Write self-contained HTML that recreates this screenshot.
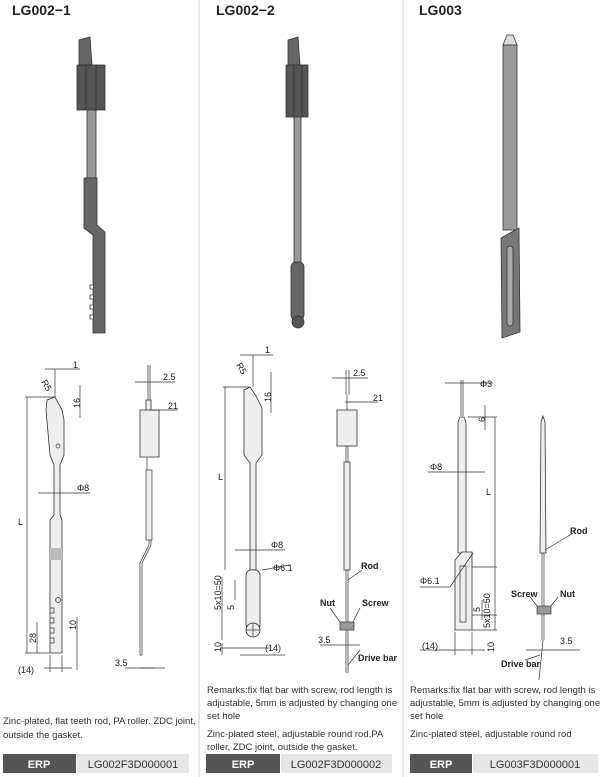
<!DOCTYPE html>
<html><head><meta charset="utf-8"><style>
body{margin:0;background:#fff;width:600px;height:777px;overflow:hidden;font-family:"Liberation Sans",sans-serif}
svg{display:block}
.t{font-family:"Liberation Sans",sans-serif;font-size:9.5px;fill:#333}
.h{font-family:"Liberation Sans",sans-serif;font-size:14px;font-weight:bold;fill:#222}
.d{font-family:"Liberation Sans",sans-serif;font-size:9px;fill:#222}
.l{stroke:#333;stroke-width:0.7;fill:none}
.p{stroke:#333;stroke-width:0.8;fill:#eee}
.e{font-family:"Liberation Sans",sans-serif;font-size:11px}
</style></head><body>
<svg width="600" height="777" viewBox="0 0 600 777">
<line x1="199" y1="0" x2="199" y2="777" stroke="#ccc"/>
<line x1="403" y1="0" x2="403" y2="777" stroke="#ccc"/>
<text class="h" x="12" y="15">LG002−1</text>
<text class="h" x="216" y="15">LG002−2</text>
<text class="h" x="419" y="15">LG003</text>

<!-- 3D col1 -->
<g fill="#777" stroke="#333" stroke-width="0.8">
<path d="M79 40 L90 37 L92 65 L79 65Z" fill="#666"/>
<rect x="77" y="65" width="28" height="45" fill="#555"/>
<line x1="86" y1="65" x2="86" y2="110"/><line x1="96" y1="65" x2="96" y2="110"/>
<rect x="87" y="110" width="9" height="68" fill="#999"/>
<path d="M84 178 L97 178 L97 225 L105 232 L105 333 L93 333 L93 235 L84 228Z" fill="#666"/>
<path d="M93 285 h-3 v4 h3 M93 295 h-3 v4 h3 M93 305 h-3 v4 h3 M93 315 h-3 v4 h3" fill="#fff"/>
</g>
<!-- 3D col2 -->
<g fill="#777" stroke="#333" stroke-width="0.8">
<path d="M288 40 L298 37 L300 65 L288 65Z" fill="#666"/>
<rect x="286" y="65" width="22" height="52" fill="#555"/>
<line x1="294" y1="65" x2="294" y2="117"/><line x1="302" y1="65" x2="302" y2="117"/>
<rect x="294" y="117" width="7" height="145" fill="#999"/>
<rect x="291" y="262" width="13" height="58" rx="5" fill="#666"/>
<circle cx="298" cy="322" r="6" fill="#555"/>
</g>
<!-- 3D col3 -->
<g stroke="#333" stroke-width="0.8">
<path d="M503 45 L507 35 L513 35 L517 45Z" fill="#ddd"/>
<rect x="503" y="45" width="14" height="185" fill="#999"/>
<path d="M501 238 L519 228 L520 332 L502 338Z" fill="#777"/>
<rect x="507" y="246" width="6" height="80" rx="3" fill="#aaa"/>
</g>

<!-- Drawing col1 -->
<g class="l">
<path d="M47 400 L55 397 L62 410 L64 420 L64 455 L60 465 L60 515 L62 520 L62 653 L50 653 L50 520 L54 515 L54 465 L50 455 L46 410Z" class="p"/>
<line x1="25" y1="397" x2="55" y2="397"/><line x1="25" y1="653" x2="50" y2="653"/>
<line x1="27" y1="397" x2="27" y2="653"/>
<line x1="55" y1="369" x2="55" y2="397"/><line x1="45" y1="369" x2="80" y2="369"/>
<line x1="80" y1="385" x2="80" y2="418"/>
<line x1="38" y1="493" x2="90" y2="493"/>
<line x1="37" y1="622" x2="37" y2="653"/>
<line x1="77" y1="617" x2="77" y2="670"/>
<line x1="44" y1="668" x2="72" y2="668"/><line x1="50" y1="655" x2="50" y2="672"/><line x1="62" y1="655" x2="62" y2="672"/>
<path d="M50 608 h4 v5 h-4 M50 618 h4 v5 h-4 M50 628 h4 v5 h-4 M50 638 h4 v5 h-4"/>
<rect x="50" y="548" width="12" height="12" fill="#bbb" stroke="none"/>
<circle cx="58" cy="446" r="2"/><circle cx="58" cy="600" r="2.5"/>
</g>
<text class="d" x="73" y="368">1</text>
<text class="d" transform="translate(41,382) rotate(60)">R5</text>
<text class="d" transform="translate(80,408) rotate(-90)">16</text>
<text class="d" x="77" y="491">Φ8</text>
<text class="d" x="18" y="525">L</text>
<text class="d" transform="translate(36,643) rotate(-90)">28</text>
<text class="d" transform="translate(76,630) rotate(-90)">10</text>
<text class="d" x="18" y="673">(14)</text>
<g class="l">
<path d="M146 400 L151 400 L151 410 L159 410 L159 457 L146 457 L140 457 L140 410 L146 410Z" class="p"/>
<line x1="148" y1="400" x2="148" y2="365"/><line x1="150" y1="400" x2="150" y2="365"/>
<line x1="135" y1="382" x2="175" y2="382"/><line x1="145" y1="410" x2="178" y2="410"/>
<path d="M147 457 L147 470 L149 470 L149 545 L140 563 L140 655 L142 655 L142 563 L151 545 L151 470"/>
<rect x="146" y="470" width="6" height="70" fill="#eee"/>
<line x1="140" y1="668" x2="155" y2="668"/><line x1="125" y1="668" x2="165" y2="668"/>
</g>
<text class="d" x="163" y="380">2.5</text>
<text class="d" x="168" y="409">21</text>
<text class="d" x="115" y="666">3.5</text>

<!-- Drawing col2 -->
<g class="l">
<path d="M244 390 L250 387 L256 396 L262 408 L262 455 L256 463 L256 570 L250 570 L250 463 L244 455Z" class="p"/>
<rect x="246" y="570" width="14" height="60" rx="5" class="p"/>
<circle cx="253" cy="630" r="7" class="p"/>
<line x1="253" y1="623" x2="253" y2="637"/><line x1="246" y1="630" x2="260" y2="630"/>
<line x1="223" y1="387" x2="250" y2="387"/><line x1="225" y1="387" x2="225" y2="570"/>
<line x1="253" y1="355" x2="253" y2="387"/><line x1="240" y1="355" x2="273" y2="355"/>
<line x1="271" y1="372" x2="271" y2="413"/>
<line x1="235" y1="550" x2="285" y2="550"/>
<line x1="222" y1="577" x2="222" y2="640"/><line x1="222" y1="643" x2="222" y2="655"/>
<line x1="235" y1="580" x2="235" y2="600"/>
<line x1="220" y1="648" x2="270" y2="648"/>
<line x1="240" y1="655" x2="285" y2="655"/>
<line x1="262" y1="570" x2="290" y2="565"/>
</g>
<text class="d" x="265" y="353">1</text>
<text class="d" transform="translate(236,365) rotate(60)">R5</text>
<text class="d" transform="translate(271,402) rotate(-90)">16</text>
<text class="d" x="271" y="548">Φ8</text>
<text class="d" x="273" y="571">Φ6.1</text>
<text class="d" x="218" y="480">L</text>
<text class="d" transform="translate(221,610) rotate(-90)">5x10=50</text>
<text class="d" transform="translate(234,610) rotate(-90)">5</text>
<text class="d" transform="translate(221,652) rotate(-90)">10</text>
<text class="d" x="265" y="651">(14)</text>
<g class="l">
<rect x="337" y="410" width="20" height="36" class="p"/>
<line x1="347" y1="395" x2="347" y2="410"/>
<line x1="346" y1="370" x2="346" y2="395"/><line x1="349" y1="370" x2="349" y2="395"/>
<line x1="332" y1="378" x2="368" y2="378"/><line x1="345" y1="402" x2="378" y2="402"/>
<rect x="344" y="462" width="6" height="108" class="p"/>
<line x1="346" y1="446" x2="346" y2="462"/><line x1="348" y1="446" x2="348" y2="462"/>
<line x1="346" y1="570" x2="346" y2="673"/><line x1="348" y1="570" x2="348" y2="673"/>
<rect x="340" y="622" width="14" height="8" fill="#999"/>
<line x1="348" y1="580" x2="362" y2="570"/><line x1="340" y1="622" x2="330" y2="608"/><line x1="353" y1="622" x2="360" y2="608"/>
<line x1="320" y1="645" x2="360" y2="645"/>
<line x1="348" y1="665" x2="360" y2="650"/>
</g>
<text class="d" x="353" y="376">2.5</text>
<text class="d" x="373" y="401">21</text>
<text class="d" x="361" y="569" font-weight="bold">Rod</text>
<text class="d" x="320" y="606" font-weight="bold">Nut</text>
<text class="d" x="362" y="606" font-weight="bold">Screw</text>
<text class="d" x="318" y="643">3.5</text>
<text class="d" x="358" y="661" font-weight="bold">Drive bar</text>

<!-- Drawing col3 -->
<g class="l">
<path d="M458 422 L460 417 L464 417 L466 422 L466 553 L458 553Z" class="p"/>
<path d="M455 560 L462 552 L472 552 L472 630 L455 630Z" class="p"/>
<path d="M460 566 v56 h6 v-56Z"/>
<line x1="461" y1="380" x2="461" y2="416"/><line x1="463" y1="380" x2="463" y2="416"/>
<line x1="445" y1="383" x2="493" y2="383"/>
<line x1="468" y1="417" x2="497" y2="417"/><line x1="495" y1="417" x2="495" y2="630"/>
<line x1="485" y1="405" x2="485" y2="430"/>
<line x1="428" y1="472" x2="485" y2="472"/>
<line x1="420" y1="587" x2="450" y2="587"/><line x1="450" y1="587" x2="473" y2="553"/>
<line x1="472" y1="567" x2="497" y2="567"/><line x1="472" y1="615" x2="497" y2="615"/>
<line x1="472" y1="630" x2="497" y2="630"/>
<line x1="482" y1="600" x2="482" y2="620"/>
<line x1="420" y1="650" x2="485" y2="650"/><line x1="455" y1="632" x2="455" y2="655"/><line x1="472" y1="632" x2="472" y2="655"/>
</g>
<text class="d" x="480" y="387">Φ3</text>
<text class="d" transform="translate(485,422) rotate(-90)">6</text>
<text class="d" x="430" y="470">Φ8</text>
<text class="d" x="486" y="495">L</text>
<text class="d" x="420" y="584">Φ6.1</text>
<text class="d" transform="translate(490,628) rotate(-90)">5x10=50</text>
<text class="d" transform="translate(480,612) rotate(-90)">5</text>
<text class="d" transform="translate(494,652) rotate(-90)">10</text>
<text class="d" x="422" y="649">(14)</text>
<g class="l">
<path d="M541 422 L543 416 L545 422 L546 553 L540 553Z" class="p"/>
<line x1="542" y1="553" x2="542" y2="640"/><line x1="544" y1="553" x2="544" y2="640"/>
<rect x="537" y="606" width="14" height="8" fill="#999"/>
<line x1="543" y1="640" x2="539" y2="680"/>
<line x1="526" y1="650" x2="580" y2="650"/>
<line x1="545" y1="550" x2="575" y2="532"/>
<line x1="537" y1="606" x2="530" y2="597"/><line x1="551" y1="606" x2="558" y2="597"/>
<line x1="540" y1="655" x2="525" y2="660"/>
</g>
<text class="d" x="570" y="534" font-weight="bold">Rod</text>
<text class="d" x="511" y="597" font-weight="bold">Screw</text>
<text class="d" x="560" y="597" font-weight="bold">Nut</text>
<text class="d" x="560" y="644">3.5</text>
<text class="d" x="501" y="667" font-weight="bold">Drive bar</text>

<!-- Bottom text -->
<text class="t" x="3" y="724">Zinc-plated, flat teeth rod, PA roller. ZDC joint,</text>
<text class="t" x="3" y="738">outside the gasket.</text>
<text class="t" x="207" y="693">Remarks:fix flat bar with screw, rod length is</text>
<text class="t" x="207" y="706">adjustable, 5mm is adjusted by changing one</text>
<text class="t" x="207" y="719">set hole</text>
<text class="t" x="207" y="737">Zinc-plated steel, adjustable round rod,PA</text>
<text class="t" x="207" y="750">roller, ZDC joint, outside the gasket.</text>
<text class="t" x="410" y="693">Remarks:fix flat bar with screw, rod length is</text>
<text class="t" x="410" y="706">adjustable, 5mm is adjusted by changing one</text>
<text class="t" x="410" y="719">set hole</text>
<text class="t" x="410" y="737">Zinc-plated steel, adjustable round rod</text>

<rect x="3" y="754" width="73" height="19" fill="#555"/><rect x="77" y="754" width="112" height="19" fill="#e6e6e6"/>
<text class="e" x="39" y="768" text-anchor="middle" font-weight="bold" fill="#fff">ERP</text>
<text class="e" x="133" y="768" text-anchor="middle" fill="#333">LG002F3D000001</text>
<rect x="206" y="754" width="74" height="19" fill="#555"/><rect x="281" y="754" width="111" height="19" fill="#e6e6e6"/>
<text class="e" x="243" y="768" text-anchor="middle" font-weight="bold" fill="#fff">ERP</text>
<text class="e" x="336" y="768" text-anchor="middle" fill="#333">LG002F3D000002</text>
<rect x="410" y="754" width="62" height="19" fill="#555"/><rect x="473" y="754" width="125" height="19" fill="#e6e6e6"/>
<text class="e" x="441" y="768" text-anchor="middle" font-weight="bold" fill="#fff">ERP</text>
<text class="e" x="535" y="768" text-anchor="middle" fill="#333">LG003F3D000001</text>
</svg>
</body></html>
